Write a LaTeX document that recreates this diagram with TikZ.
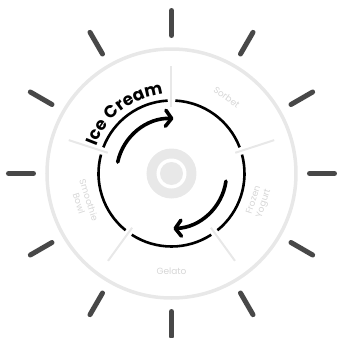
\documentclass[tikz,border=0pt]{standalone}
\usepackage{fontspec}
\setmainfont{Poppins}
\usetikzlibrary{arrows.meta,decorations.text}
\definecolor{tick}{RGB}{72,72,72}
\definecolor{rim}{RGB}{232,232,232}
\definecolor{lbl}{RGB}{214,214,214}

\begin{document}
\begin{tikzpicture}[
 tk/.style={draw=tick,line width=5pt,line cap=round},
 sep/.style={draw=rim,line width=2pt},
 seg/.style={draw=black,line width=2.6pt},
 turn/.style={draw=black,line width=3.6pt,line cap=round,-{Straight Barb[length=6pt,width=16pt,round]}},
 lab/.style={text=lbl,font=\fontsize{9}{10.5}\selectfont,align=center,inner sep=0pt}]
 \useasboundingbox (-171.5pt,-164.5pt) rectangle (165.5pt,173.5pt);
 \foreach \a in {0,30,...,330}
   \draw[tk] (\a:138pt) -- (\a:163pt);
 \draw[rim,line width=3.5pt] (0,0) circle[radius=124.5pt];
 \fill[rim] (0,0) circle[radius=25pt];
 \fill[white] (0,0) circle[radius=15pt];
 \fill[rim] (0,0) circle[radius=11.5pt];
 \foreach \a in {18,90,...,306}{
   \draw[sep] (\a:67pt) -- (\a:108pt);
   \draw[seg] (\a+3:73pt) arc[start angle=\a+3,end angle=\a+69,radius=73pt];
 }
 \draw[turn] (168:55pt) arc[start angle=168,end angle=88,radius=55pt];
 \draw[turn] (-8:55pt) arc[start angle=-8,end angle=-88,radius=55pt];
 \path[decorate,decoration={text along path,text align=center,
   text={|\fontsize{17}{17}\selectfont\bfseries|Ice Cream}}]
   (170:80pt) arc[start angle=170,end angle=86,radius=80pt];
 \node[lab,rotate=-36] (sorbet) at (54:94pt) {Sorbet};
 \node[lab,rotate=72] (frozen) at (342:92pt) {Frozen\\Yogurt};
 \node[lab] (gelato) at (270:98pt) {Gelato};
 \node[lab,rotate=-72] (smoothie) at (198:92pt) {Smoothie\\Bowl};
\end{tikzpicture}
\end{document}
